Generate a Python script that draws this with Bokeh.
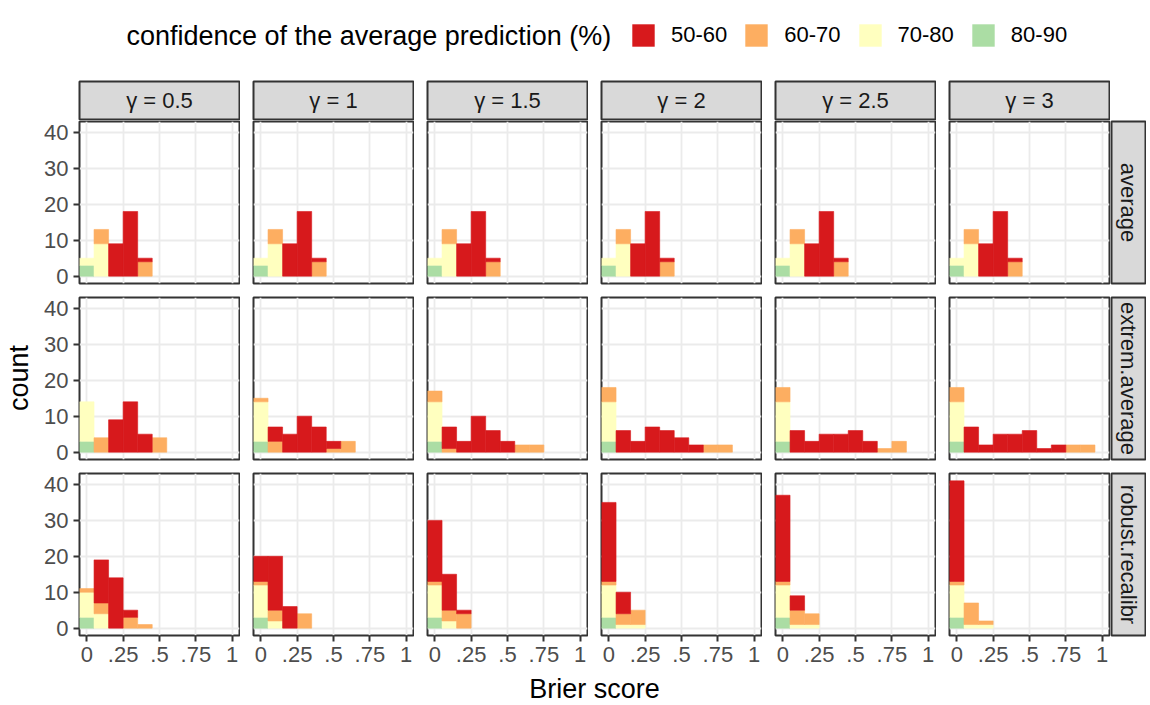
import numpy as np
from bokeh.plotting import figure
from bokeh.models import (ColumnDataSource, Range1d, LinearAxis, Grid, FixedTicker,
                          Legend, LegendItem)
from bokeh.layouts import row, column
from bokeh.embed import file_html
from bokeh.resources import INLINE
from bokeh.core.properties import value

FONT = "Liberation Sans"

# ---------------- data ----------------
GAMMAS = ["γ = 0.5", "γ = 1", "γ = 1.5", "γ = 2", "γ = 2.5", "γ = 3"]
METHODS = ["average", "extrem.average", "robust.recalibr"]
CONF_LEVELS = ["50-60", "60-70", "70-80", "80-90"]
CONF_COLORS = ["#D7191C", "#FDAE61", "#FFFFBF", "#ABDDA4"]
BIN_CENTERS = [0.0, 0.1, 0.2, 0.3, 0.4, 0.5, 0.6, 0.7, 0.8, 0.9]
BIN_WIDTH = 0.1
X_TICKS = [0, 0.25, 0.5, 0.75, 1]
X_TICK_LABELS = ["0", ".25", ".5", ".75", "1"]
Y_TICKS = [0, 10, 20, 30, 40]
LEGEND_TITLE = "confidence of the average prediction (%)"
X_TITLE = "Brier score"
Y_TITLE = "count"

# counts per bin, one list per gamma
AVERAGE_50_60 = [[0, 0, 9, 18, 1, 0, 0, 0, 0, 0]] * 6
AVERAGE_60_70 = [[0, 4, 0, 0, 4, 0, 0, 0, 0, 0]] * 6
AVERAGE_70_80 = [[2, 9, 0, 0, 0, 0, 0, 0, 0, 0]] * 6
AVERAGE_80_90 = [[3, 0, 0, 0, 0, 0, 0, 0, 0, 0]] * 6

EXTREM_50_60 = [
    [0, 0, 9, 14, 5, 0, 0, 0, 0, 0],
    [0, 4, 5, 10, 7, 2, 0, 0, 0, 0],
    [0, 6, 3, 10, 6, 3, 0, 0, 0, 0],
    [0, 6, 3, 7, 6, 4, 2, 0, 0, 0],
    [0, 6, 3, 5, 5, 6, 3, 0, 0, 0],
    [0, 7, 2, 5, 5, 6, 1, 2, 0, 0],
]
EXTREM_60_70 = [
    [0, 4, 0, 0, 0, 4, 0, 0, 0, 0],
    [1, 3, 0, 0, 0, 1, 3, 0, 0, 0],
    [3, 1, 0, 0, 0, 0, 2, 2, 0, 0],
    [4, 0, 0, 0, 0, 0, 0, 2, 2, 0],
    [4, 0, 0, 0, 0, 0, 0, 1, 3, 0],
    [4, 0, 0, 0, 0, 0, 0, 0, 2, 2],
]
EXTREM_70_80 = [[11, 0, 0, 0, 0, 0, 0, 0, 0, 0]] * 6
EXTREM_80_90 = [[3, 0, 0, 0, 0, 0, 0, 0, 0, 0]] * 6

ROBUST_50_60 = [
    [0, 12, 14, 2, 0, 0, 0, 0, 0, 0],
    [7, 15, 6, 0, 0, 0, 0, 0, 0, 0],
    [17, 10, 1, 0, 0, 0, 0, 0, 0, 0],
    [22, 6, 0, 0, 0, 0, 0, 0, 0, 0],
    [24, 4, 0, 0, 0, 0, 0, 0, 0, 0],
    [28, 0, 0, 0, 0, 0, 0, 0, 0, 0],
]
ROBUST_60_70 = [
    [1, 3, 0, 3, 1, 0, 0, 0, 0, 0],
    [1, 3, 0, 4, 0, 0, 0, 0, 0, 0],
    [1, 3, 4, 0, 0, 0, 0, 0, 0, 0],
    [1, 3, 4, 0, 0, 0, 0, 0, 0, 0],
    [1, 4, 3, 0, 0, 0, 0, 0, 0, 0],
    [1, 6, 1, 0, 0, 0, 0, 0, 0, 0],
]
ROBUST_70_80 = [
    [7, 4, 0, 0, 0, 0, 0, 0, 0, 0],
    [9, 2, 0, 0, 0, 0, 0, 0, 0, 0],
    [9, 2, 0, 0, 0, 0, 0, 0, 0, 0],
    [9, 1, 1, 0, 0, 0, 0, 0, 0, 0],
    [9, 1, 1, 0, 0, 0, 0, 0, 0, 0],
    [9, 1, 1, 0, 0, 0, 0, 0, 0, 0],
]
ROBUST_80_90 = [[3, 0, 0, 0, 0, 0, 0, 0, 0, 0]] * 6

COUNTS = {
    "average": [AVERAGE_50_60, AVERAGE_60_70, AVERAGE_70_80, AVERAGE_80_90],
    "extrem.average": [EXTREM_50_60, EXTREM_60_70, EXTREM_70_80, EXTREM_80_90],
    "robust.recalibr": [ROBUST_50_60, ROBUST_60_70, ROBUST_70_80, ROBUST_80_90],
}

# ---------------- styling ----------------
BORDER = "#333333"
GRID = "#EBEBEB"
STRIP_FILL = "#D9D9D9"
TICK_TXT = "#4D4D4D"
SMALL = "22px"
BIG = "27px"
FRAME_W, FRAME_H = 160, 162
TOTAL_W = 1146
LEFT_W = 38

COMMON = dict(toolbar_location=None, output_backend="svg",
              x_axis_type=None, y_axis_type=None)


def axis_style(ax):
    ax.axis_line_color = None
    ax.major_tick_out = 6
    ax.major_tick_in = 0
    ax.minor_tick_out = 0
    ax.minor_tick_in = 0
    ax.major_tick_line_color = BORDER
    ax.major_tick_line_width = 2
    ax.major_label_text_font = FONT
    ax.major_label_text_font_size = SMALL
    ax.major_label_text_color = TICK_TXT


def make_panel(ri, ci):
    method = METHODS[ri]
    left = 41 if ci == 0 else 13
    bottom = 39 if ri == 2 else 13
    p = figure(width=left + FRAME_W + 1, height=1 + FRAME_H + bottom,
               x_range=Range1d(-0.05, 1.05), y_range=Range1d(-2.05, 43.05),
               min_border_left=left, min_border_right=1, min_border_top=1,
               min_border_bottom=bottom, background_fill_color="white",
               outline_line_color=BORDER, outline_line_width=2, **COMMON)
    p.add_layout(Grid(dimension=0, ticker=FixedTicker(ticks=X_TICKS),
                      grid_line_color=GRID, grid_line_width=1.8))
    p.add_layout(Grid(dimension=1, ticker=FixedTicker(ticks=Y_TICKS),
                      grid_line_color=GRID, grid_line_width=1.8))

    series = [s[ci] for s in COUNTS[method]]
    centers = np.array(BIN_CENTERS)
    cum = np.zeros(len(BIN_CENTERS))
    for k in reversed(range(len(CONF_LEVELS))):   # 80-90 at the bottom, 50-60 on top
        c = np.array(series[k], dtype=float)
        m = c > 0
        src = ColumnDataSource(dict(x=centers[m], bottom=cum[m], top=(cum + c)[m]))
        p.vbar(x="x", bottom="bottom", top="top", width=BIN_WIDTH, source=src,
               fill_color=CONF_COLORS[k], line_color=CONF_COLORS[k], line_width=0.6)
        cum = cum + c

    if ci == 0:
        ya = LinearAxis(ticker=FixedTicker(ticks=Y_TICKS))
        axis_style(ya)
        ya.major_label_standoff = 5
        p.add_layout(ya, "left")
    if ri == 2:
        xa = LinearAxis(ticker=FixedTicker(ticks=X_TICKS),
                        major_label_overrides={float(t): l for t, l in zip(X_TICKS, X_TICK_LABELS)})
        axis_style(xa)
        xa.major_label_standoff = 5
        p.add_layout(xa, "below")
    return p


def make_col_strip(ci, label):
    left = 41 if ci == 0 else 13
    p = figure(width=left + FRAME_W + 1, height=40, x_range=Range1d(0, 1), y_range=Range1d(0, 1),
               min_border_left=left, min_border_right=1, min_border_top=1, min_border_bottom=1,
               background_fill_color=STRIP_FILL, outline_line_color=BORDER,
               outline_line_width=2, **COMMON)
    p.text(x=[0.5], y=[0.5], text=[label], text_align="center", text_baseline="middle",
           text_font=value(FONT), text_font_size=SMALL, text_color="#1A1A1A")
    return p


def make_row_strip(ri, label):
    bottom = 39 if ri == 2 else 13
    p = figure(width=36, height=1 + FRAME_H + bottom, x_range=Range1d(0, 1), y_range=Range1d(0, 1),
               min_border_left=1, min_border_right=1, min_border_top=1, min_border_bottom=bottom,
               background_fill_color=STRIP_FILL, outline_line_color=BORDER,
               outline_line_width=2, **COMMON)
    p.text(x=[0.5], y=[0.5], text=[label], text_align="center", text_baseline="middle",
           angle=-np.pi / 2, text_font=value(FONT), text_font_size=SMALL, text_color="#1A1A1A")
    return p


# header with legend
HDR_H = 80
hdr = figure(width=TOTAL_W, height=HDR_H, x_range=Range1d(0, TOTAL_W), y_range=Range1d(0, HDR_H),
             min_border=0, outline_line_color=None, **COMMON)
hdr.text(x=[126], y=[HDR_H - 35], text=[LEGEND_TITLE], text_align="left", text_baseline="middle",
         text_font=value(FONT), text_font_size=BIG, text_color="black")
items = []
for lvl, col in zip(CONF_LEVELS, CONF_COLORS):
    r = hdr.vbar(x=[np.nan], top=[np.nan], width=1, fill_color=col, line_color=None)
    items.append(LegendItem(label=lvl, renderers=[r]))
legend = Legend(items=items, orientation="horizontal", location=(629, HDR_H - 49),
                glyph_width=28, glyph_height=28, label_standoff=14, spacing=15,
                padding=0, margin=0, border_line_color=None, background_fill_alpha=0,
                label_text_font=FONT, label_text_font_size=SMALL, label_text_color="black")
hdr.add_layout(legend)

# y title
BLOCK_H = 40 + 176 + 176 + 202
cnt = figure(width=LEFT_W, height=BLOCK_H, x_range=Range1d(0, LEFT_W), y_range=Range1d(0, BLOCK_H),
             min_border=0, outline_line_color=None, **COMMON)
cnt.text(x=[18], y=[BLOCK_H - 297.5], text=[Y_TITLE], text_align="center", text_baseline="middle",
         angle=np.pi / 2, text_font=value(FONT), text_font_size=BIG, text_color="black")

# x title
FTR_H = 31
ftr = figure(width=TOTAL_W, height=FTR_H, x_range=Range1d(0, TOTAL_W), y_range=Range1d(0, FTR_H),
             min_border=0, outline_line_color=None, **COMMON)
ftr.text(x=[594], y=[FTR_H - 14], text=[X_TITLE], text_align="center", text_baseline="middle",
         text_font=value(FONT), text_font_size=BIG, text_color="black")

strip_row = row(*[make_col_strip(ci, g) for ci, g in enumerate(GAMMAS)])
panel_rows = [row(*[make_panel(ri, ci) for ci in range(len(GAMMAS))], make_row_strip(ri, m))
              for ri, m in enumerate(METHODS)]

layout = column(hdr, row(cnt, column(strip_row, *panel_rows)), ftr)

open("out.html", "w").write(file_html(layout, INLINE))
